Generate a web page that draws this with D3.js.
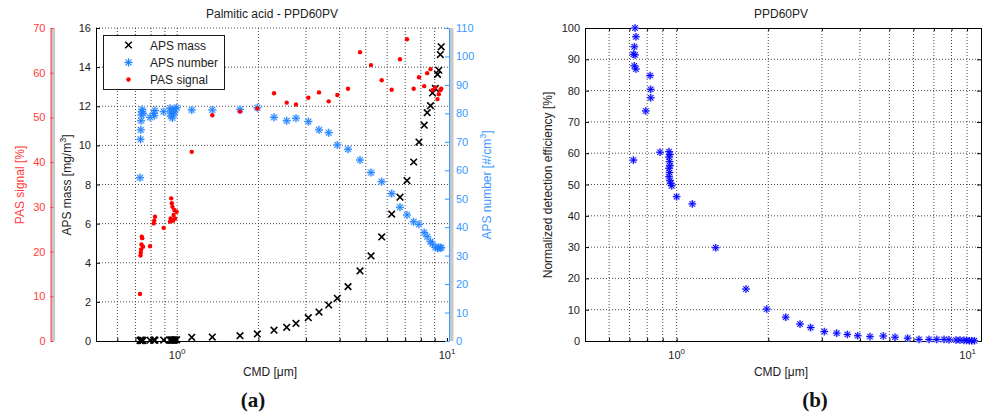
<!DOCTYPE html>
<html><head><meta charset="utf-8">
<script src="https://cdn.jsdelivr.net/npm/d3@7"></script>
<style>
body{margin:0;background:#fff}
svg{display:block;font-family:"Liberation Sans",Arial,Helvetica,sans-serif}
</style>
</head><body><svg id="c" width="986" height="416"></svg>
<script>
// ---------- DATA (a) : Palmitic acid - PPD60PV ----------
const cmdA = [0.728,0.731,0.733,0.735,0.737,0.739,0.742,0.747,0.793,0.818,0.822,0.827,0.891,
  0.940,0.946,0.950,0.955,0.960,0.965,0.970,0.975,0.982,0.995,
  1.132,1.349,1.709,1.981,2.285,2.546,2.756,3.061,3.354,3.643,3.922,4.297,4.760,5.228,5.728,
  6.237,6.695,7.107,7.525,7.873,8.231,8.444,8.687,8.838,9.050,9.221,9.324,9.445,9.517];
const apsMass = [0.03,0.03,0.03,0.03,0.03,0.03,0.03,0.03,0.04,0.04,0.04,0.04,0.05,
  0.05,0.05,0.05,0.05,0.05,0.05,0.05,0.05,0.06,0.06,
  0.19,0.20,0.27,0.36,0.55,0.70,0.90,1.19,1.48,1.84,2.18,2.78,3.58,4.35,5.32,
  6.49,7.35,8.20,9.15,10.17,11.03,11.67,12.03,12.68,12.91,13.63,13.84,14.64,15.04];
const apsNumber = [57.4,70.9,74.2,77.4,79.4,80.6,81.4,80.0,78.6,80.0,79.2,81.0,80.6,
  81.8,79.0,80.2,80.8,78.4,81.2,79.8,80.4,81.6,82.0,
  81.2,81.2,81.4,82.0,78.6,77.4,78.3,77.1,74.2,73.2,68.9,67.4,63.6,59.2,56.0,
  51.8,47.0,44.3,41.9,41.0,38.1,36.7,34.9,34.1,32.9,32.6,32.9,32.7,32.8];
const pasSignal = [10.5,19.1,19.8,20.5,21.6,23.3,23.0,21.1,21.2,26.3,26.9,27.8,25.3,
  26.7,27.4,31.9,30.8,30.0,26.9,28.2,29.3,27.4,28.9,
  42.3,50.5,51.3,52.0,55.4,53.3,52.9,54.4,55.6,53.6,55.0,56.4,64.6,61.7,58.3,
  56.2,63.0,67.5,56.4,59.0,57.0,59.9,60.8,56.1,56.7,54.1,55.2,56.1,56.4];
const legendLabels = ["APS mass","APS number","PAS signal"];

// ---------- DATA (b) : PPD60PV ----------
const cmdB = [0.730,0.735,0.726,0.721,0.730,0.726,0.735,0.721,0.792,0.818,0.822,0.822,0.882,
  0.944,0.951,0.944,0.948,0.951,0.944,0.948,0.944,0.951,0.956,0.964,1.000,1.126,1.344,1.690,
  1.977,2.283,2.543,2.757,3.056,3.357,3.638,3.935,4.318,4.775,5.219,5.743,6.256,6.750,7.158,
  7.560,7.850,8.280,8.530,8.790,8.970,9.150,9.320,9.510];
const detEff = [100.0,97.2,94.0,91.6,91.4,87.9,86.9,57.8,73.5,84.8,80.4,77.7,60.3,
  60.5,59.6,58.8,57.3,56.0,55.2,53.8,52.5,51.2,50.4,49.6,46.1,43.8,29.8,16.6,
  10.2,7.6,5.4,4.3,3.0,2.5,2.1,1.7,1.4,1.6,1.2,0.9,0.5,0.5,0.5,
  0.5,0.4,0.3,0.3,0.2,0.2,0.1,0.1,0.1];

// ---------- TICKS ----------
const massTicks = [0,2,4,6,8,10,12,14,16];
const pasTicks = [0,10,20,30,40,50,60,70];
const numberTicks = [0,10,20,30,40,50,60,70,80,90,100,110];
const effTicks = [0,10,20,30,40,50,60,70,80,90,100];
const cmdMinor = [0.6,0.7,0.8,0.9,2,3,4,5,6,7,8,9];
const cmdDecades = [1,10];

const svg = d3.select("#c");
const RED = "#ff0000", RED_AX = "#ff3b3b", BLUE = "#1f80ff", BLUE_AX = "#3a98ff";
const starPath = s => `M${-s},0H${s}M0,${-s}V${s}M${-s*0.72},${-s*0.72}L${s*0.72},${s*0.72}M${-s*0.72},${s*0.72}L${s*0.72},${-s*0.72}`;
const xPath = s => `M${-s},${-s}L${s},${s}M${-s},${s}L${s},${-s}`;

function grid(g, x, y, xs, ys, x0, x1, y0, y1){
  g.selectAll(null).data(xs).enter().append("line")
    .attr("x1", d=>x(d)).attr("x2", d=>x(d)).attr("y1", y0).attr("y2", y1)
    .attr("stroke","#333").attr("stroke-width",0.9).attr("stroke-dasharray","1,2");
  g.selectAll(null).data(ys).enter().append("line")
    .attr("y1", d=>y(d)).attr("y2", d=>y(d)).attr("x1", x0).attr("x2", x1)
    .attr("stroke","#333").attr("stroke-width",0.9).attr("stroke-dasharray","1,2");
}
function decadeLabels(g, x, yb, maxX){
  const t = g.selectAll(null).data(cmdDecades).enter().append("text")
    .attr("x", d=>Math.min(x(d), maxX)).attr("y", yb)
    .attr("text-anchor", d=>x(d) > maxX ? "end" : "middle")
    .attr("font-size",11).attr("fill","#222");
  t.append("tspan").text("10");
  t.append("tspan").attr("dy",-5).attr("font-size",8).text(d=>Math.round(Math.log10(d)));
}
function styleAxis(g, color){
  g.selectAll("path.domain").attr("stroke", color).attr("stroke-width",1);
  g.selectAll(".tick line").attr("stroke", color);
  g.selectAll(".tick text").attr("fill", color).attr("font-size",11)
    .attr("font-family",'"Liberation Sans",Arial,sans-serif');
}

// ================= CHART (a) =================
const xA = d3.scaleLog().domain([0.5,10]).range([96,447]);
const yMass = d3.scaleLinear().domain([0,16]).range([341,28]);
const yPas = d3.scaleLinear().domain([0,70]).range([341,28]);
const yNum = d3.scaleLinear().domain([0,110]).range([341,28]);
const gA = svg.append("g");

grid(gA, xA, yMass, cmdMinor.concat([1]), massTicks.filter(d=>d>0), 96, 448, 341, 28);

// gray bands
gA.append("rect").attr("x",51).attr("y",28).attr("width",4).attr("height",313).attr("fill","#c8c8c8");
gA.append("rect").attr("x",449.5).attr("y",28).attr("width",4).attr("height",313).attr("fill","#c8c8c8");

// bottom axis
const axA = gA.append("g").attr("transform","translate(0,341)")
  .call(d3.axisBottom(xA).tickValues(cmdMinor.concat(cmdDecades)).tickSize(-3).tickSizeOuter(0).tickFormat(""));
styleAxis(axA, "#000");
decadeLabels(gA, xA, 359, 470);

// left mass axis
const ayM = gA.append("g").attr("transform","translate(96,0)")
  .call(d3.axisLeft(yMass).tickValues(massTicks).tickSize(-4).tickSizeOuter(0).tickPadding(5));
styleAxis(ayM, "#000"); ayM.selectAll(".tick text").attr("fill","#222");

// red PAS axis
const ayP = gA.append("g").attr("transform","translate(50.5,0)")
  .call(d3.axisLeft(yPas).tickValues(pasTicks).tickSize(-3).tickSizeOuter(0).tickPadding(5));
styleAxis(ayP, RED_AX);

// blue number axis
const ayN = gA.append("g").attr("transform","translate(449,0)")
  .call(d3.axisRight(yNum).tickValues(numberTicks).tickSize(-4).tickSizeOuter(0).tickPadding(7));
styleAxis(ayN, BLUE_AX);

// data
const ptsA = cmdA.map((c,i)=>({c, m:apsMass[i], n:apsNumber[i], p:pasSignal[i]}));
gA.selectAll(null).data(ptsA).enter().append("path")
  .attr("transform", d=>`translate(${xA(d.c)},${yMass(d.m)})`)
  .attr("d", xPath(3.3)).attr("stroke","#000").attr("stroke-width",1.6).attr("fill","none");
gA.selectAll(null).data(ptsA).enter().append("path")
  .attr("transform", d=>`translate(${xA(d.c)},${yNum(d.n)})`)
  .attr("d", starPath(4)).attr("stroke","#b4d6ff").attr("stroke-width",2).attr("fill","none");
gA.selectAll(null).data(ptsA).enter().append("path")
  .attr("transform", d=>`translate(${xA(d.c)},${yNum(d.n)})`)
  .attr("d", starPath(4)).attr("stroke",BLUE).attr("stroke-width",1).attr("fill","none");
gA.selectAll(null).data(ptsA).enter().append("circle")
  .attr("cx", d=>xA(d.c)).attr("cy", d=>yPas(d.p)).attr("r",2.2).attr("fill",RED);

// labels
gA.append("text").attr("x",272).attr("y",18).attr("text-anchor","middle").attr("font-size",12)
  .attr("fill","#222").text("Palmitic acid - PPD60PV");
gA.append("text").attr("x",270).attr("y",376).attr("text-anchor","middle").attr("font-size",12)
  .attr("fill","#222").text("CMD [\u03bcm]");
gA.append("text").attr("transform","translate(24,185) rotate(-90)").attr("text-anchor","middle")
  .attr("font-size",12).attr("fill",RED_AX).text("PAS signal [%]");
const lm = gA.append("text").attr("transform","translate(71,185) rotate(-90)").attr("text-anchor","middle")
  .attr("font-size",12).attr("fill","#222");
lm.append("tspan").text("APS mass [mg/m");
lm.append("tspan").attr("dy",-5).attr("font-size",9).text("3");
lm.append("tspan").attr("dy",5).text("]");
const ln = gA.append("text").attr("transform","translate(491,185) rotate(-90)").attr("text-anchor","middle")
  .attr("font-size",12).attr("fill",BLUE_AX);
ln.append("tspan").text("APS number [#/cm");
ln.append("tspan").attr("dy",-5).attr("font-size",9).text("3");
ln.append("tspan").attr("dy",5).text("]");
gA.append("text").attr("x",253).attr("y",407).attr("text-anchor","middle")
  .attr("font-family",'"Liberation Serif","Times New Roman",serif').attr("font-weight","bold")
  .attr("font-size",21).attr("fill","#111").text("(a)");

// legend
const lg = gA.append("g");
lg.append("rect").attr("x",103.5).attr("y",35.5).attr("width",121).attr("height",54)
  .attr("fill","#fff").attr("stroke","#000").attr("stroke-width",0.9);
const lgY = [45,62.5,79.5];
lg.append("path").attr("transform",`translate(128.5,${lgY[0]})`).attr("d",xPath(3.3))
  .attr("stroke","#000").attr("stroke-width",1.5);
lg.append("path").attr("transform",`translate(128.5,${lgY[1]})`).attr("d",starPath(4))
  .attr("stroke","#b4d6ff").attr("stroke-width",2);
lg.append("path").attr("transform",`translate(128.5,${lgY[1]})`).attr("d",starPath(4))
  .attr("stroke",BLUE).attr("stroke-width",1);
lg.append("circle").attr("cx",128.5).attr("cy",lgY[2]).attr("r",2.2).attr("fill",RED);
lg.selectAll(null).data(legendLabels).enter().append("text")
  .attr("x",150).attr("y",(d,i)=>lgY[i]+4.5).attr("font-size",12).attr("fill","#222").text(d=>d);

// ================= CHART (b) =================
const xB = d3.scaleLog().domain([0.5,10]).range([585,981]);
const yEff = d3.scaleLinear().domain([0,100]).range([341,28]);
const gB = svg.append("g");
grid(gB, xB, yEff, cmdMinor.concat([1]), effTicks.filter(d=>d>0 && d<100), 585, 981, 341, 28);

const axB = gB.append("g").attr("transform","translate(0,341)")
  .call(d3.axisBottom(xB).tickValues(cmdMinor.concat(cmdDecades)).tickSize(-3).tickSizeOuter(0).tickFormat(""));
styleAxis(axB, "#000");
const axBt = gB.append("g").attr("transform","translate(0,28)")
  .call(d3.axisTop(xB).tickValues(cmdMinor.concat(cmdDecades)).tickSize(-3).tickSizeOuter(0).tickFormat(""));
styleAxis(axBt, "#000");
decadeLabels(gB, xB, 359, 976);
const ayE = gB.append("g").attr("transform","translate(585,0)")
  .call(d3.axisLeft(yEff).tickValues(effTicks).tickSize(-4).tickSizeOuter(0).tickPadding(5));
styleAxis(ayE, "#000"); ayE.selectAll(".tick text").attr("fill","#222");
const ayEr = gB.append("g").attr("transform","translate(981,0)")
  .call(d3.axisRight(yEff).tickValues(effTicks).tickSize(-4).tickSizeOuter(0).tickFormat(""));
styleAxis(ayEr, "#000");

const ptsB = cmdB.map((c,i)=>({c, e:detEff[i]}));
gB.selectAll(null).data(ptsB).enter().append("path")
  .attr("transform", d=>`translate(${xB(d.c)},${yEff(d.e)})`)
  .attr("d", starPath(3.8)).attr("stroke","#b8b8ff").attr("stroke-width",2).attr("fill","none");
gB.selectAll(null).data(ptsB).enter().append("path")
  .attr("transform", d=>`translate(${xB(d.c)},${yEff(d.e)})`)
  .attr("d", starPath(3.8)).attr("stroke","#0000ff").attr("stroke-width",1).attr("fill","none");

gB.append("text").attr("x",781).attr("y",18).attr("text-anchor","middle").attr("font-size",12)
  .attr("fill","#222").text("PPD60PV");
gB.append("text").attr("x",781).attr("y",376).attr("text-anchor","middle").attr("font-size",12)
  .attr("fill","#222").text("CMD [\u03bcm]");
gB.append("text").attr("transform","translate(552,185) rotate(-90)").attr("text-anchor","middle")
  .attr("font-size",12).attr("fill","#222").text("Normalized detection efficiency [%]");
gB.append("text").attr("x",815).attr("y",407).attr("text-anchor","middle")
  .attr("font-family",'"Liberation Serif","Times New Roman",serif').attr("font-weight","bold")
  .attr("font-size",21).attr("fill","#111").text("(b)");
</script>
</body></html>
